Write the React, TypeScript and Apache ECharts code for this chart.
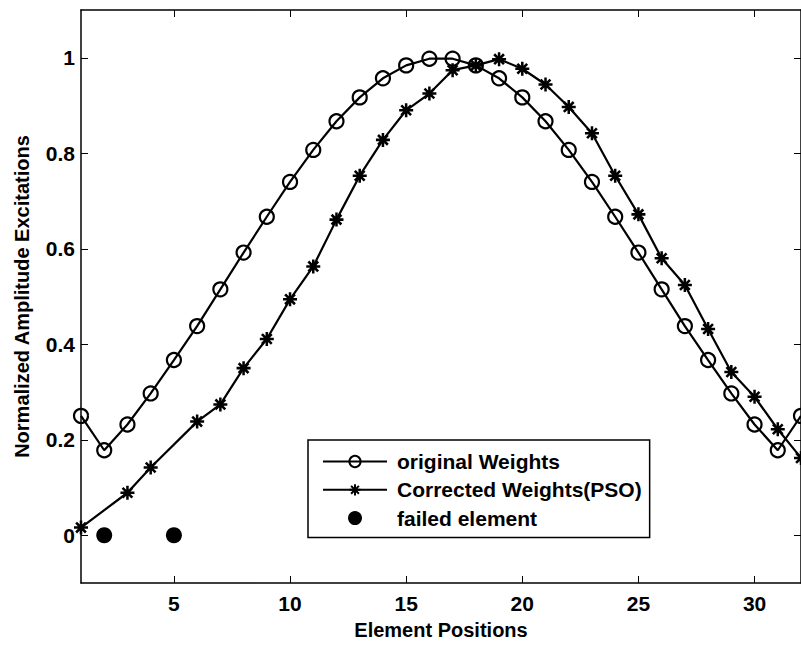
import React, { useEffect, useRef } from 'react';
import * as echarts from 'echarts';

const positions = [1, 2, 3, 4, 5, 6, 7, 8, 9, 10, 11, 12, 13, 14, 15, 16, 17, 18, 19, 20, 21, 22, 23, 24, 25, 26, 27, 28, 29, 30, 31, 32];
const originalWeights = [0.25, 0.178, 0.232, 0.297, 0.367, 0.438, 0.515, 0.592, 0.667, 0.74, 0.807, 0.867, 0.917, 0.957, 0.984, 0.998, 0.998, 0.984, 0.957, 0.917, 0.867, 0.807, 0.74, 0.667, 0.592, 0.515, 0.438, 0.367, 0.297, 0.232, 0.178, 0.25];

const correctedPositions = [1, 3, 4, 6, 7, 8, 9, 10, 11, 12, 13, 14, 15, 16, 17, 18, 19, 20, 21, 22, 23, 24, 25, 26, 27, 28, 29, 30, 31, 32];
const correctedWeights = [0.016, 0.089, 0.142, 0.238, 0.274, 0.35, 0.411, 0.494, 0.563, 0.661, 0.753, 0.828, 0.89, 0.925, 0.974, 0.984, 0.997, 0.977, 0.944, 0.897, 0.842, 0.753, 0.672, 0.58, 0.524, 0.432, 0.342, 0.29, 0.222, 0.162];

const failedPositions = [2, 5];
const failedValues = [0, 0];

const xTicks = [5, 10, 15, 20, 25, 30];
const yTicks = [0, 0.2, 0.4, 0.6, 0.8, 1];

const seriesNames = ['original Weights', 'Corrected Weights(PSO)', 'failed element'];
const xName = 'Element Positions';
const yName = 'Normalized Amplitude Excitations';

const FONT = '"Liberation Sans", Arial, Helvetica, sans-serif';
const ASTERISK =
  'path://M0,8.2H20V11.8H0Z M8.2,0H11.8V20H8.2Z M4.3,1.7L18.3,15.7L15.7,18.3L1.7,4.3Z M15.7,1.7L18.3,4.3L4.3,18.3L1.7,15.7Z';

export default function App() {
  const ref = useRef<HTMLDivElement>(null);
  useEffect(() => {
    if (!ref.current) return;
    const chart = echarts.init(ref.current, null, { renderer: 'svg' });
    const axisLine = { show: true, onZero: false, lineStyle: { color: '#000', width: 1.5 } };
    const tickStyle = { color: '#000', width: 1 };
    const xBase = {
      type: 'value' as const,
      min: 1,
      max: 32,
      splitLine: { show: false },
      axisLine,
    };
    const yBase = {
      type: 'value' as const,
      min: -0.1,
      max: 1.1,
      splitLine: { show: false },
      axisLine,
    };
    chart.setOption({
      animation: false,
      backgroundColor: '#fff',
      textStyle: { fontFamily: FONT },
      grid: { left: 81, right: -7, top: 10, bottom: 59 },
      xAxis: [
        {
          ...xBase,
          position: 'bottom',
          name: xName,
          nameLocation: 'middle',
          nameGap: 37,
          nameTextStyle: { fontSize: 20, fontWeight: 'bold', color: '#000', fontFamily: FONT },
          axisTick: { show: true, inside: true, length: 7, lineStyle: tickStyle, customValues: xTicks },
          axisLabel: { show: true, customValues: xTicks, fontSize: 21, fontWeight: 'bold', color: '#000', margin: 10, fontFamily: FONT },
        },
        {
          ...xBase,
          position: 'top',
          axisTick: { show: true, inside: true, length: 7, lineStyle: tickStyle, customValues: xTicks },
          axisLabel: { show: false },
        },
      ],
      yAxis: [
        {
          ...yBase,
          position: 'left',
          name: yName,
          nameLocation: 'middle',
          nameGap: 49,
          nameTextStyle: { fontSize: 20, fontWeight: 'bold', color: '#000', fontFamily: FONT },
          axisTick: { show: true, inside: true, length: 7, lineStyle: tickStyle, customValues: yTicks },
          axisLabel: { show: true, customValues: yTicks, fontSize: 21, fontWeight: 'bold', color: '#000', margin: 6, fontFamily: FONT },
        },
        {
          ...yBase,
          position: 'right',
          axisTick: { show: true, inside: true, length: 7, lineStyle: tickStyle, customValues: yTicks },
          axisLabel: { show: false },
        },
      ],
      legend: {
        orient: 'vertical',
        left: 308,
        top: 440,
        padding: [11, 8, 9, 14],
        itemGap: 7.3,
        itemWidth: 64,
        itemHeight: 14,
        borderColor: '#000',
        borderWidth: 1.5,
        backgroundColor: '#fff',
        textStyle: { fontSize: 21, fontWeight: 'bold', color: '#000', fontFamily: FONT, padding: [0, 0, 0, 5] },
        data: seriesNames,
      },
      series: [
        {
          name: seriesNames[0],
          type: 'line',
          data: positions.map((x, i) => [x, originalWeights[i]]),
          symbol: 'circle',
          symbolSize: 14,
          itemStyle: { color: 'rgba(0,0,0,0)', borderColor: '#000', borderWidth: 2.2 },
          lineStyle: { color: '#000', width: 2.2 },
          z: 2,
        },
        {
          name: seriesNames[1],
          type: 'line',
          data: correctedPositions.map((x, i) => [x, correctedWeights[i]]),
          symbol: ASTERISK,
          symbolSize: 14,
          itemStyle: { color: '#000', borderWidth: 0 },
          lineStyle: { color: '#000', width: 2.2 },
          z: 3,
        },
        {
          name: seriesNames[2],
          type: 'scatter',
          data: failedPositions.map((x, i) => [x, failedValues[i]]),
          symbol: 'circle',
          symbolSize: 16,
          itemStyle: { color: '#000', opacity: 1 },
          z: 4,
        },
      ],
    });
    return () => chart.dispose();
  }, []);
  return (
    <div
      ref={ref}
      style={{ position: 'fixed', left: 0, top: 0, width: 801, height: 645, background: '#fff' }}
    />
  );
}
